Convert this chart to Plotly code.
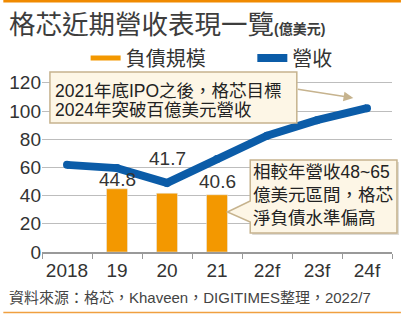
import plotly.graph_objects as go

# ---- data ----
categories = ["2018", "19", "20", "21", "22f", "23f", "24f"]
revenue = [61.8, 59.5, 49.0, 66.0, 82.5, 93.5, 102.0]
debt_categories = ["19", "20", "21"]
debt = [44.8, 41.7, 40.6]
debt_labels = ["44.8", "41.7", "40.6"]
y_ticks = [0, 20, 40, 60, 80, 100, 120]

# ---- layout geometry helpers (pixels -> paper) ----
W, H = 401, 314
L, R, T, B = 39, 9, 80, 62
PW, PH = W - L - R, H - T - B


def px(x):
    return (x - L) / PW


def py(y):
    return (H - B - y) / PH


FONT = "Liberation Sans, Arial, 'Noto Sans CJK TC', sans-serif"
ORANGE = "#f39800"
BLUE = "#0b5ca8"
BOX_FILL = "#fdf6e6"
BOX_LINE = "#c6b38e"

fig = go.Figure()
fig.add_trace(go.Bar(
    x=debt_categories, y=debt, marker_color=ORANGE, width=0.42,
    showlegend=False, hoverinfo="skip",
))
# legend proxy for the bar series (shown as a dash, like the reference)
fig.add_trace(go.Scatter(
    x=[None], y=[None], mode="lines", name="負債規模",
    line=dict(color=ORANGE, width=5), legend="legend",
))
fig.add_trace(go.Scatter(
    x=categories, y=revenue, mode="lines+markers", name="營收",
    line=dict(color=BLUE, width=8), marker=dict(color=BLUE, size=8),
    legend="legend2",
))

annotations = []
# title
annotations.append(dict(
    x=px(4), y=py(25), xref="paper", yref="paper", xanchor="left", yanchor="middle",
    text="格芯近期營收表現一覽<span style='font-size:14px'><b>(億美元)</b></span>",
    showarrow=False, font=dict(size=26.5, color="#3d3d3d", family=FONT),
))
# source
annotations.append(dict(
    x=px(4), y=py(297), xref="paper", yref="paper", xanchor="left", yanchor="middle",
    text="資料來源：格芯，Khaveen，DIGITIMES整理，2022/7",
    showarrow=False, font=dict(size=15, color="#444", family=FONT),
))
# bar value labels
label_shift = [-3, 22, 1]
for c, v, t, s in zip(debt_categories, debt, debt_labels, label_shift):
    annotations.append(dict(
        x=categories.index(c), y=v, xref="x", yref="y", yanchor="bottom", yshift=s,
        text=t, showarrow=False, font=dict(size=19, color="#333", family=FONT),
    ))
# box 1 text
for txt, yy in [("2021年底IPO之後，格芯目標", 91), ("2024年突破百億美元營收", 110)]:
    annotations.append(dict(
        x=px(50), y=py(yy), xref="paper", yref="paper", xanchor="left", yanchor="middle",
        text=txt, showarrow=False, font=dict(size=17.5, color="#222", family=FONT),
    ))
# arrow from box 1
annotations.append(dict(
    x=px(353), y=py(98), xref="paper", yref="paper", text="",
    showarrow=True, ax=-57, ay=-9, arrowhead=2, arrowsize=1.3,
    arrowwidth=1.5, arrowcolor=BOX_LINE,
))
# box 2 text
for txt, yy in [("相較年營收48~65", 172), ("億美元區間，格芯", 195), ("淨負債水準偏高", 218)]:
    annotations.append(dict(
        x=px(250), y=py(yy), xref="paper", yref="paper", xanchor="left", yanchor="middle",
        text=txt, showarrow=False, font=dict(size=17.5, color="#222", family=FONT),
    ))

shapes = [
    # top & bottom orange rules
    dict(type="rect", xref="paper", yref="paper", x0=px(0), x1=px(W), y0=py(0), y1=py(2.5),
         fillcolor="#f08a00", line=dict(width=0), layer="above"),
    dict(type="line", xref="paper", yref="paper", x0=px(0), x1=px(W), y0=py(312.5), y1=py(312.5),
         line=dict(color="#f0a040", width=1.5)),
    # box 1
    dict(type="rect", xref="paper", yref="paper", x0=px(47), x1=px(296), y0=py(72), y1=py(123),
         fillcolor=BOX_FILL, line=dict(color=BOX_LINE, width=1.5), layer="above"),
    # box 2 shadow
    dict(type="path", xref="paper", yref="paper",
         path=f"M {px(251)},{py(162)} L {px(399)},{py(162)} L {px(399)},{py(235)} L {px(251)},{py(235)} Z",
         fillcolor="rgba(120,110,90,0.25)", line=dict(width=0), layer="above"),
    # box 2 with tail
    dict(type="path", xref="paper", yref="paper",
         path=(f"M {px(249)},{py(160)} L {px(397)},{py(160)} L {px(397)},{py(233)} "
               f"L {px(249)},{py(233)} L {px(249)},{py(222)} L {px(226)},{py(212)} "
               f"L {px(249)},{py(201)} Z"),
         fillcolor=BOX_FILL, line=dict(color=BOX_LINE, width=1.5), layer="above"),
]

legend_common = dict(
    orientation="h", yanchor="middle", xref="paper", yref="paper",
    font=dict(size=20, color="#333", family=FONT), itemwidth=30,
    bgcolor="rgba(0,0,0,0)",
)

fig.update_layout(
    width=W, height=H,
    margin=dict(l=L, r=R, t=T, b=B, pad=0),
    paper_bgcolor="white", plot_bgcolor="white",
    font=dict(family=FONT, color="#333"),
    showlegend=True,
    legend=dict(x=px(83), y=py(58), xanchor="left", **legend_common),
    legend2=dict(x=px(294), y=py(58), xanchor="center", **legend_common),
    xaxis=dict(
        type="category", categoryorder="array", categoryarray=categories,
        range=[-0.5, 6.5], tickson="boundaries", ticks="outside", ticklen=5,
        tickcolor="#999", tickwidth=1.2, showline=True, linecolor="#999", linewidth=1.5,
        showgrid=False, tickangle=0, tickfont=dict(size=19, color="#333", family=FONT),
    ),
    yaxis=dict(
        range=[0, 122], tickvals=y_ticks, showgrid=True, gridcolor="#bdbdbd", gridwidth=1,
        zeroline=False, showline=False, ticks="",
        tickfont=dict(size=19, color="#333", family=FONT),
    ),
    annotations=annotations, shapes=shapes,
    bargap=0.5,
)

fig.write_html("out.html")
